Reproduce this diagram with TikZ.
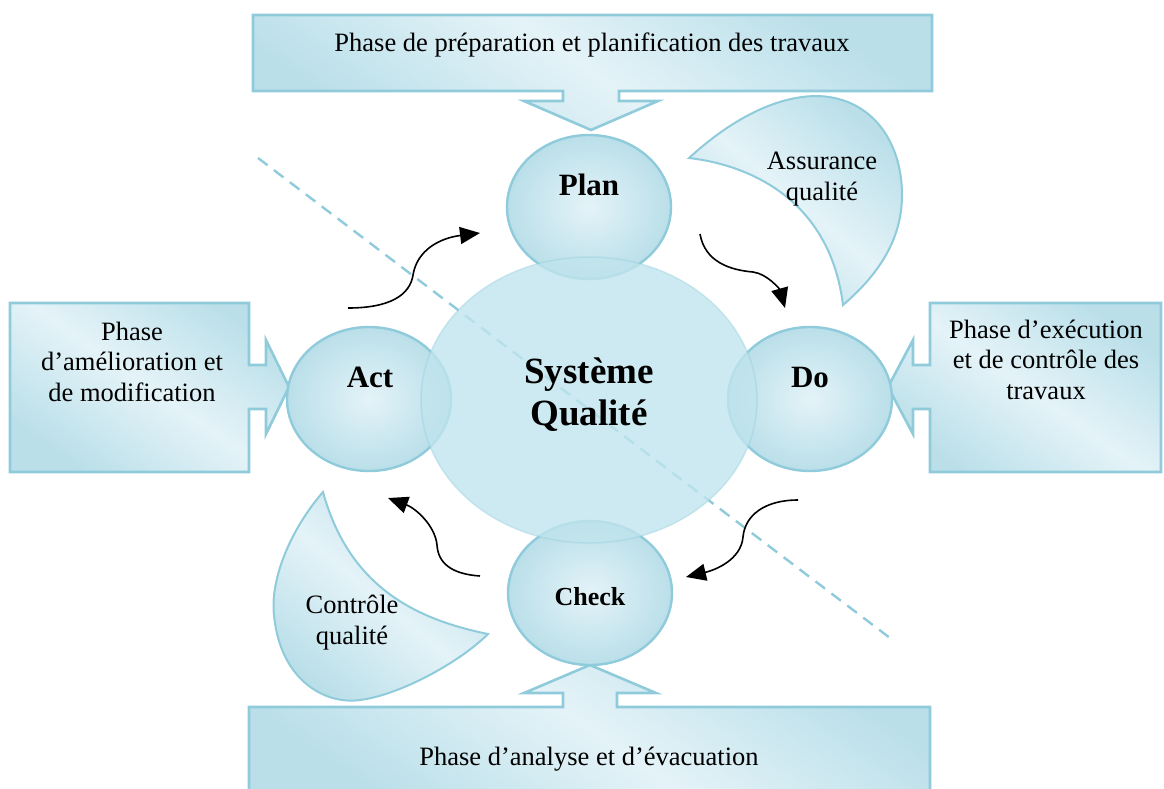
\documentclass[tikz,border=0pt]{standalone}
\usepackage{fontspec}
\setmainfont{Liberation Serif}
\usetikzlibrary{arrows.meta}
\definecolor{edge}{RGB}{143,203,218}
\definecolor{pale}{RGB}{228,243,248}
\definecolor{deep}{RGB}{186,223,233}
\definecolor{mid}{RGB}{192,228,237}
\begin{document}
\begin{tikzpicture}[x=1pt,y=-1pt,
  panel/.style={draw=edge, line width=2.6pt, line join=miter,
    top color=deep, bottom color=deep, middle color=pale, shading angle=-35},
  moon/.style={draw=edge, line width=2pt,
    top color=deep, bottom color=deep, middle color=pale, shading angle=-40},
  phase/.style={draw=edge, line width=2.4pt, inner color=pale, outer color=deep},
  core/.style={fill=mid, fill opacity=0.8, draw=edge, draw opacity=0.35, line width=1.5pt},
  txt/.style={font=\fontsize{26.5}{30.5}\selectfont, align=center, inner sep=0pt},
  tag/.style={font=\fontsize{31}{36}\selectfont\bfseries, inner sep=0pt},
  flow/.style={line width=1.6pt, -{Triangle[length=20pt,width=17pt]}},
  axis/.style={draw=edge, line width=2.4pt, dash pattern=on 12pt off 8pt}]
\useasboundingbox (0,0) rectangle (1164,788);

% diagonal separation line
\coordinate (d1) at (258,158);
\coordinate (d2) at (890,638);
\draw[axis] (d1) -- (d2);

% callout panels with arrows pointing to the cycle
\path[panel] (253,15) -- (932,15) -- (932,91) -- (619,91) -- (619,101) -- (658,101)
  -- (591,130) -- (524,101) -- (563,101) -- (563,91) -- (253,91) -- cycle;
\path[panel] (10,303) -- (249,303) -- (249,365) -- (266,365) -- (266,340)
  -- (289,387) -- (266,434) -- (266,409) -- (249,409) -- (249,472) -- (10,472) -- cycle;
\path[panel] (1161,303) -- (930,303) -- (930,365) -- (913,365) -- (913,340)
  -- (888,387) -- (913,434) -- (913,409) -- (930,409) -- (930,472) -- (1161,472) -- cycle;
\path[panel] (249,791) -- (249,707) -- (563,707) -- (563,693) -- (524,693)
  -- (590,665) -- (656,693) -- (617,693) -- (617,707) -- (930,707) -- (930,791) -- cycle;

% crescent shapes
\path[moon] (689,158) .. controls (725,125) and (770,97) .. (815,96)
  .. controls (870,96) and (902,140) .. (902,195)
  .. controls (902,245) and (872,280) .. (843,305)
  .. controls (830,200) and (750,165) .. cycle;
\path[moon] (323,492) .. controls (290,530) and (270,580) .. (274,615)
  .. controls (280,680) and (325,705) .. (360,700)
  .. controls (400,695) and (460,662) .. (488,634)
  .. controls (420,620) and (350,590) .. cycle;

% PDCA circles
\path[phase] (589,207) ellipse [x radius=82, y radius=72];
\path[phase] (369,399) ellipse [x radius=82, y radius=72];
\path[phase] (810,399) ellipse [x radius=82, y radius=72];
\path[phase] (590,593) ellipse [x radius=82, y radius=72];

% central system
\path[core] (589,400) ellipse [x radius=168, y radius=143];

% texts (multi-line nodes sit on the baseline of their last line)
\node[txt, anchor=base] (tp) at (592,51) {Phase de préparation et planification des travaux};
\node[txt, anchor=base] (bt) at (589,765) {Phase d’analyse et d’évacuation};
\node[txt, anchor=base] (lf) at (132,401) {Phase\\d’amélioration et\\de modification};
\node[txt, anchor=base] (rt) at (1046,399) {Phase d’exécution\\et de contrôle des\\travaux};
\node[txt, anchor=base] (aq) at (822,200) {Assurance\\qualité};
\node[txt, anchor=base] (cq) at (352,644) {Contrôle\\qualité};
\node[tag, anchor=base] (plan) at (589,195) {Plan};
\node[tag, anchor=base] (act) at (370,387) {Act};
\node[tag, anchor=base] (do) at (810,387) {Do};
\node[tag, anchor=base, font=\fontsize{26}{30}\selectfont\bfseries] (check) at (590,605) {Check};
\node[anchor=base, align=center, inner sep=0pt, font=\fontsize{37}{42}\selectfont\bfseries] (sq) at (589,425) {Système\\Qualité};

% cycle arrows
\coordinate (a1s) at (348,308); \coordinate (a1e) at (480,233);
\coordinate (a2s) at (700,234); \coordinate (a2e) at (785,308);
\coordinate (a3s) at (798,500); \coordinate (a3e) at (686,577);
\coordinate (a4s) at (480,576); \coordinate (a4e) at (388,498);
\draw[flow] (a1s) .. controls (390,308) and (410,295) .. (413,275)
  .. controls (417,250) and (440,238) .. (a1e);
\draw[flow] (a2s) .. controls (705,262) and (730,270) .. (753,272)
  .. controls (768,274) and (780,290) .. (a2e);
\draw[flow] (a3s) .. controls (765,500) and (745,515) .. (743,537)
  .. controls (741,560) and (715,570) .. (a3e);
\draw[flow] (a4s) .. controls (450,574) and (438,562) .. (437,545)
  .. controls (435,525) and (415,508) .. (a4e);
\end{tikzpicture}
\end{document}
